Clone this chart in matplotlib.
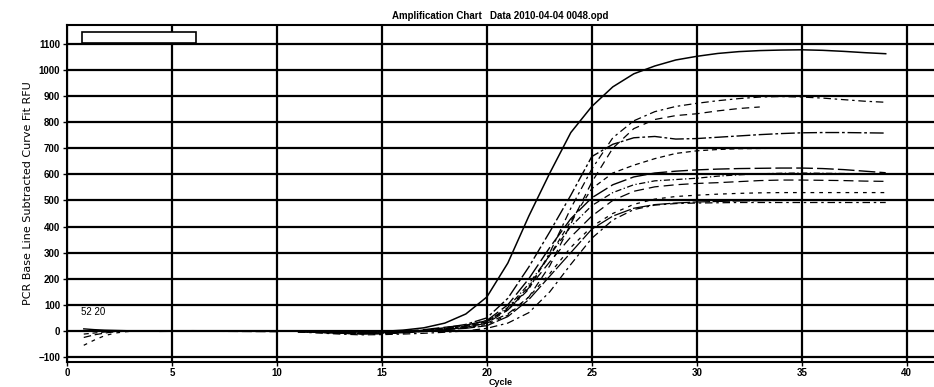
import numpy as np
import matplotlib
matplotlib.use("Agg")
import matplotlib.pyplot as plt
from matplotlib.patches import Rectangle

plt.rcParams["font.family"] = ["Liberation Sans", "DejaVu Sans"]

# 사이클 축 (11~39) 과 곡선별 RFU 값
cycles = list(range(11, 40))
nan = np.nan

curve_a = [0, -2, -4, -4, -2, 3, 12, 30, 65, 130, 260, 440, 605, 760, 860, 935, 985,
           1015, 1038, 1052, 1063, 1070, 1074, 1076, 1077, 1075, 1071, 1066, 1062]
curve_b = [-2, -5, -8, -10, -9, -6, 0, 8, 20, 40, 80, 160, 300, 470, 620, 740, 805,
           840, 860, 872, 882, 890, 896, 898, 896, 892, 886, 880, 876]
curve_c = [-3, -6, -9, -11, -10, -7, -2, 5, 14, 30, 65, 130, 250, 410, 570, 700, 775,
           810, 825, 832, 843, 852, 858, nan, nan, nan, nan, nan, nan]
curve_d = [-1, -4, -7, -9, -8, -4, 3, 12, 25, 50, 125, 245, 380, 520, 668, 715, 740,
           745, 735, 737, 742, 747, 752, 756, 759, 760, 760, 759, 758]
curve_e = [-2, -5, -8, -10, -9, -5, 2, 10, 18, 35, 85, 170, 290, 420, 545, 605, 635,
           660, 680, 690, 695, 698, 699, 700, 700, 700, 700, 700, 700]
curve_f = [-1, -3, -6, -8, -6, -2, 5, 14, 22, 40, 100, 200, 320, 430, 510, 560, 590,
           605, 612, 617, 620, 622, 623, 624, 624, 622, 618, 612, 606]
curve_g = [-2, -4, -7, -9, -8, -4, 2, 10, 17, 35, 90, 180, 290, 400, 480, 530, 560,
           575, 580, 585, 593, 598, 602, 604, 605, 604, 603, 602, 601]
curve_h = [-3, -6, -9, -12, -11, -8, -2, 6, 14, 30, 80, 165, 265, 360, 440, 500, 535,
           552, 560, 565, 568, 572, 576, 578, 578, 577, 576, 574, 573]
curve_i = [-2, -5, -8, -10, -9, -6, 0, 7, 12, 25, 60, 130, 220, 320, 400, 450, 485,
           505, 515, 520, 524, 527, 529, 530, 530, 530, 530, 530, 530]
curve_j = [-1, -3, -5, -7, -7, -5, -1, 5, 10, 20, 55, 120, 210, 300, 390, 440, 470,
           484, 490, 494, 496, 498, 499, 500, 500, 500, 500, 500, 500]
curve_k = [-4, -8, -12, -15, -14, -12, -9, -5, 0, 10, 30, 70, 150, 255, 355, 425, 465,
           482, 488, 490, 491, 492, 492, 492, 492, 492, 492, 492, 492]

# 초반 사이클 잔여 조각
early_cycles = [0.8, 1.3, 1.8, 2.3, 2.8, 3.3]
early_1 = [8, 5, 3, 2, 1, 0]
early_2 = [-12, -8, -4, -2, 0, 0]
early_3 = [-55, -35, -18, -8, -3, 0]
early_4 = [-25, -15, -8, -3, -1, 0]
mid_cycles = [4.4, 6, 8, 10]
mid_1 = [0, 1, 0, -1]
mid_2 = [-2, -1, -2, -3]

x_ticks = list(range(0, 41, 5))
y_ticks = list(range(-100, 1101, 100))

fig = plt.figure(figsize=(9.34, 3.87), dpi=100)
ax = fig.add_axes([0.0717, 0.0646, 0.9283, 0.8708])

ax.set_xlim(0, 41.3)
ax.set_ylim(-119, 1172)
ax.set_xticks(x_ticks)
ax.set_yticks(y_ticks)
ax.grid(True, color="black", lw=1.6)
ax.set_axisbelow(True)
for s in ("left", "top", "bottom"):
    ax.spines[s].set_linewidth(1.5)
ax.spines["right"].set_visible(False)
ax.tick_params(direction="out", length=3, width=1, pad=2)
ax.tick_params(axis="x", pad=1)
for lab in ax.get_xticklabels() + ax.get_yticklabels():
    lab.set_fontsize(7)
    lab.set_fontweight("bold")

styles = [
    (curve_a, "-", 1.1),
    (curve_b, (0, (2, 3, 6, 3)), 0.9),
    (curve_c, (0, (6, 4)), 0.9),
    (curve_d, (0, (10, 2, 2, 2)), 1.0),
    (curve_e, (0, (4, 3)), 0.9),
    (curve_f, (0, (12, 3)), 1.0),
    (curve_g, (0, (5, 2, 1, 2)), 0.9),
    (curve_h, (0, (8, 4)), 0.9),
    (curve_i, (0, (3, 4)), 0.9),
    (curve_j, (0, (14, 2)), 0.9),
    (curve_k, (0, (6, 3, 2, 3)), 0.9),
]
for vals, ls, lw in styles:
    ax.plot(cycles, vals, color="black", ls=ls, lw=lw)

ax.plot(early_cycles, early_1, color="black", lw=1.0)
ax.plot(early_cycles, early_2, color="black", lw=0.9, ls=(0, (4, 3)))
ax.plot(early_cycles, early_3, color="black", lw=0.9, ls=(0, (3, 4)))
ax.plot(early_cycles, early_4, color="black", lw=0.9, ls=(0, (6, 3)))
ax.plot(mid_cycles, mid_1, color="black", lw=1.0)
ax.plot(mid_cycles, mid_2, color="black", lw=0.9, ls=(0, (8, 3)))

ax.text(0.65, 60, "52 20", fontsize=7)

# 빈 범례 상자
ax.add_patch(Rectangle((0.0173, 0.9466), 0.1315, 0.0326, transform=ax.transAxes,
                       facecolor="white", edgecolor="black", lw=1.2, zorder=5))

ax.set_title("Amplification Chart   Data 2010-04-04 0048.opd", fontsize=7,
             fontweight="bold", pad=4)
fig.text(501 / 934, 1 - 382.5 / 387, "Cycle", fontsize=6.5, fontweight="bold",
         ha="center", va="center")
ax.set_ylabel("PCR Base Line Subtracted Curve Fit RFU", fontsize=8,
              family=["Liberation Sans Narrow", "DejaVu Sans"], labelpad=4)

fig.savefig("out.png", dpi=100)
